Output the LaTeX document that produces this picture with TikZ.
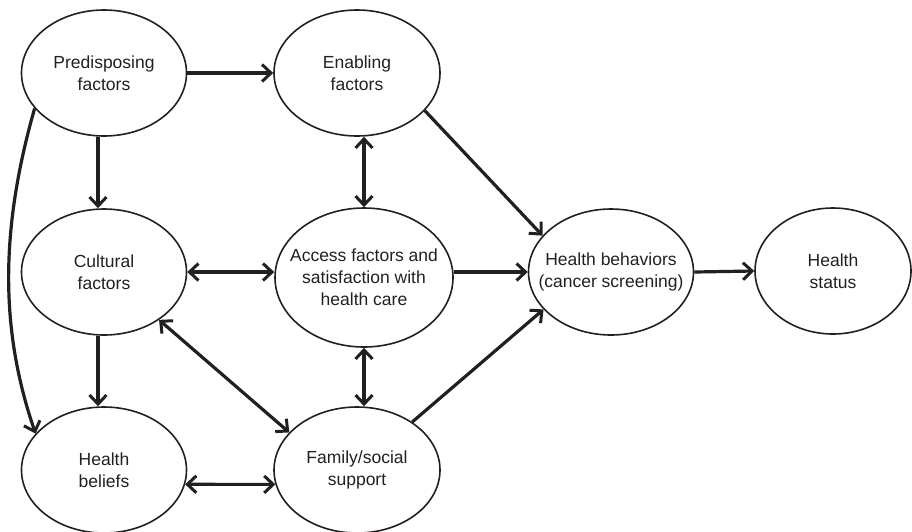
\documentclass[tikz,border=0pt]{standalone}
\usepackage{fontspec}
\setmainfont{Liberation Sans}
\usetikzlibrary{shapes.geometric,arrows.meta}
\definecolor{ink}{HTML}{231F20}
\begin{document}
\begin{tikzpicture}[x=1pt,y=-1pt,
  oval/.style={ellipse,draw=ink,line width=1.6pt,inner sep=0pt},
  lbl/.style={align=center,text=ink,inner sep=0pt,font=\fontsize{17.5}{22}\selectfont},
  tip/.style={Straight Barb[length=9pt,width=17pt,line width=3pt]},
  conn/.style={draw=ink,line width=3.2pt,-{Straight Barb[length=9pt,width=17pt,line width=3pt]}},
  biconn/.style={draw=ink,line width=3.2pt,{Straight Barb[length=9pt,width=17pt,line width=3pt]}-{Straight Barb[length=9pt,width=17pt,line width=3pt]}}]
\useasboundingbox (0,0) rectangle (912,531);
\node[oval,minimum width=165pt,minimum height=126pt] (pred) at (104,73) {};
\node[oval,minimum width=166pt,minimum height=126pt] (enab) at (357,73) {};
\node[oval,minimum width=165pt,minimum height=126pt] (cult) at (104,272) {};
\node[oval,minimum width=178pt,minimum height=139pt] (acc) at (364,277.5) {};
\node[oval,minimum width=165pt,minimum height=126pt] (hb) at (611,272) {};
\node[oval,minimum width=156pt,minimum height=126pt] (hs) at (833,271) {};
\node[oval,minimum width=165pt,minimum height=126pt] (bel) at (104,470) {};
\node[oval,minimum width=166pt,minimum height=126pt] (fam) at (357,470) {};

\node[lbl] (pred-t) at (pred) {Predisposing\\factors};
\node[lbl] (enab-t) at (enab) {Enabling\\factors};
\node[lbl] (cult-t) at (cult) {Cultural\\factors};
\node[lbl] (acc-t) at (acc) {Access factors and\\satisfaction with\\health care};
\node[lbl] (hb-t) at (hb) {Health behaviors\\(cancer screening)};
\node[lbl] (hs-t) at (hs) {Health\\status};
\node[lbl] (bel-t) at (bel) {Health\\beliefs};
\node[lbl] (fam-t) at (fam) {Family/social\\support};

\path[conn] (pred.east) -- (enab.west);
\path[conn] ([xshift=-6pt]pred.south) -- ([xshift=-6pt]cult.north);
\path[conn] ([xshift=-6pt]cult.south) -- ([xshift=-6pt]bel.north);
\path[biconn] (acc.north |- enab.south) -- (acc.north);
\path[biconn] (acc.south) -- (acc.south |- fam.north);
\path[biconn] (cult.east) -- (acc.west |- cult.east);
\path[conn] (acc.east |- hb.west) -- (hb.west);
\path[conn] (hb.east) -- (hs.west);
\path[conn] (enab.-29) -- (hb.152);
\path[conn] (fam.41) -- (hb.209);
\path[biconn] (cult.-41) -- (fam.151);
\path[biconn] (bel.-10) -- (fam.190);
\path[conn] (pred.207) .. controls (0,230) and (0,330) .. (bel.152);
\end{tikzpicture}
\end{document}
